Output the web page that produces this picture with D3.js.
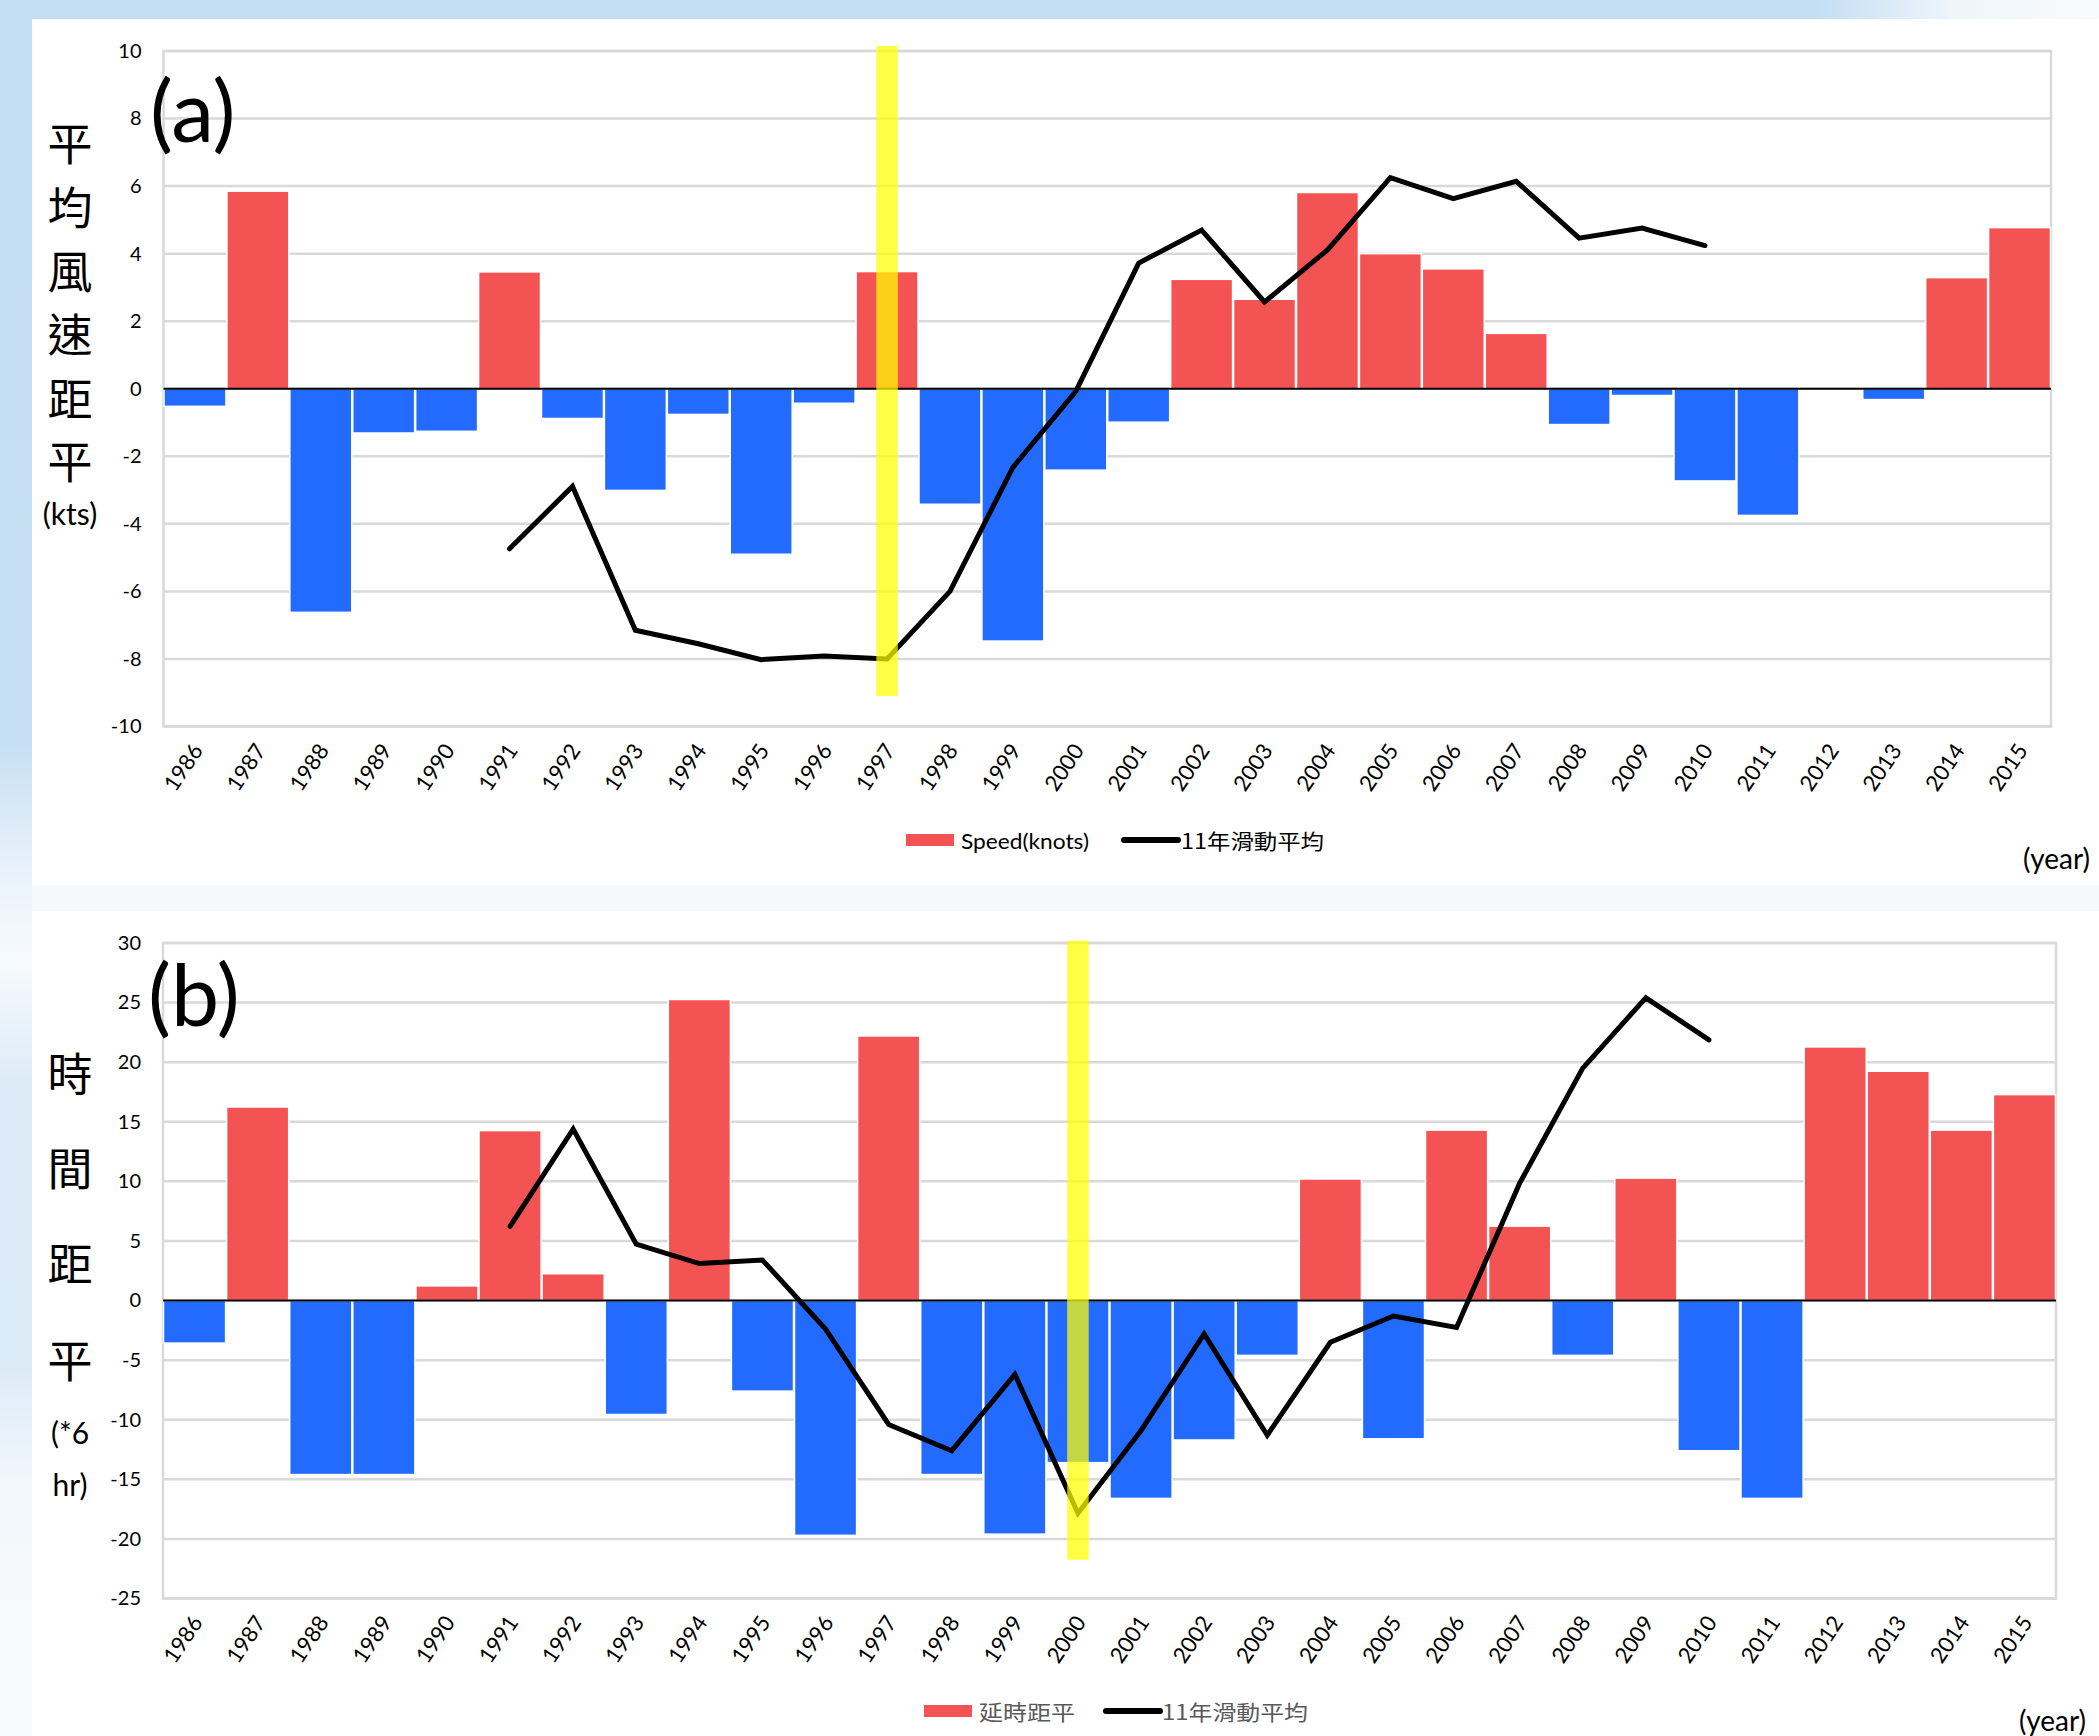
<!DOCTYPE html>
<html><head><meta charset="utf-8">
<script src="https://cdn.jsdelivr.net/npm/d3@7"></script>
<style>body{margin:0;background:#fff}svg{display:block}</style>
</head><body>
<script>
// ---------------- DATA ----------------
const years = ["1986","1987","1988","1989","1990","1991","1992","1993","1994","1995",
  "1996","1997","1998","1999","2000","2001","2002","2003","2004","2005",
  "2006","2007","2008","2009","2010","2011","2012","2013","2014","2015"];
const speedAnomaly = [-0.52, 5.85, -6.62, -1.31, -1.26, 3.46, -0.88, -3.01, -0.76, -4.9,
  -0.43, 3.47, -3.42, -7.47, -2.41, -0.99, 3.24, 2.65, 5.81, 4.0,
  3.55, 1.64, -1.06, -0.2, -2.73, -3.75, 0.05, -0.32, 3.29, 4.77];
const maYears = ["1991","1992","1993","1994","1995","1996","1997","1998","1999","2000",
  "2001","2002","2003","2004","2005","2006","2007","2008","2009","2010"];
const speedMovingAvg = [-4.74, -2.89, -7.15, -7.55, -8.02, -7.91, -8.0, -6.0, -2.33, -0.08,
  3.72, 4.70, 2.57, 4.11, 6.25, 5.63, 6.14, 4.46, 4.76, 4.24];
const durationAnomaly = [-3.57, 16.24, -14.6, -14.6, 1.23, 14.26, 2.25, -9.56, 25.26, -7.6,
  -19.7, 22.2, -14.6, -19.6, -13.6, -16.6, -11.7, -4.6, 10.2, -11.6,
  14.3, 6.24, -4.6, 10.27, -12.6, -16.6, 21.28, 19.24, 14.3, 17.28];
const durationMovingAvg = [6.23, 14.38, 4.73, 3.1, 3.4, -2.4, -10.4, -12.6, -6.19, -17.84,
  -10.9, -2.8, -11.3, -3.5, -1.3, -2.26, 9.85, 19.5, 25.4, 21.87];
const speedTicks = [-10, -8, -6, -4, -2, 0, 2, 4, 6, 8, 10];
const durationTicks = [-25, -20, -15, -10, -5, 0, 5, 10, 15, 20, 25, 30];
const speedHighlight = {year: "1997", lo: -9.1, hi: 10.15};
const durationHighlight = {year: "2000", lo: -21.75, hi: 30.2};
const speedTitle = ["平", "均", "風", "速", "距", "平"];
const durationTitle = ["時", "間", "距", "平"];
const legendA = ["Speed(knots)", "11年滑動平均"];
const legendB = ["延時距平", "11年滑動平均"];

// ---------------- STYLE ----------------
const RED = "#f45353", BLUE = "#236bff", GRID = "#d9d9d9";
const LATIN = "Lato, 'Open Sans', sans-serif";
const CJK = "'Noto Sans CJK TC', 'Noto Sans CJK SC', sans-serif";

const W = 2099, H = 1736;
const svg = d3.select("body").append("svg").attr("width", W).attr("height", H);
const defs = svg.append("defs");

// background
const gTop = defs.append("linearGradient").attr("id", "gTop").attr("x1", 0).attr("x2", 1).attr("y1", 0).attr("y2", 0);
[[0, "#c4def3"], [0.865, "#c4def3"], [0.93, "#eef5fb"], [1, "#f8fbfd"]].forEach(s => gTop.append("stop").attr("offset", s[0]).attr("stop-color", s[1]));
const gLeft = defs.append("linearGradient").attr("id", "gLeft").attr("x1", 0).attr("x2", 0).attr("y1", 0).attr("y2", 1);
[[0, "#c4def3"], [0.42, "#c6dff3"], [0.5, "#eaf3fb"], [0.55, "#f6fafd"], [0.62, "#dcebf7"], [0.78, "#dbeaf7"], [0.86, "#f3f8fc"], [1, "#f8fbfd"]].forEach(s => gLeft.append("stop").attr("offset", s[0]).attr("stop-color", s[1]));
svg.append("rect").attr("width", W).attr("height", H).attr("fill", "#f6f9fc");
svg.append("rect").attr("width", W).attr("height", 19).attr("fill", "url(#gTop)");
svg.append("rect").attr("y", 19).attr("width", 32).attr("height", H - 19).attr("fill", "url(#gLeft)");
svg.append("rect").attr("x", 32).attr("y", 19).attr("width", W - 32).attr("height", 866).attr("fill", "#ffffff");
svg.append("rect").attr("x", 32).attr("y", 911).attr("width", W - 32).attr("height", H - 911).attr("fill", "#ffffff");

function drawChart(cfg) {
  const g = svg.append("g");
  const x = d3.scaleBand().domain(years).range([cfg.x0, cfg.x1]).padding(0);
  const bw = x.bandwidth();
  const y = d3.scaleLinear().domain([cfg.ticks[0], cfg.ticks[cfg.ticks.length - 1]]).range([cfg.yb, cfg.yt]);

  // gridlines
  g.append("g").selectAll("line").data(cfg.ticks).join("line")
    .attr("x1", cfg.x0).attr("x2", cfg.x1)
    .attr("y1", d => y(d)).attr("y2", d => y(d))
    .attr("stroke", GRID).attr("stroke-width", 2.5);
  g.append("rect").attr("x", cfg.x0).attr("y", cfg.yt).attr("width", cfg.x1 - cfg.x0).attr("height", cfg.yb - cfg.yt)
    .attr("fill", "none").attr("stroke", GRID).attr("stroke-width", 2.5);

  // bars
  const data = years.map((yr, i) => ({yr, v: cfg.values[i]}));
  g.append("g").selectAll("rect").data(data).join("rect")
    .attr("x", d => x(d.yr) + 0.5)
    .attr("width", bw - 1)
    .attr("y", d => y(Math.max(0, d.v)))
    .attr("height", d => Math.abs(y(d.v) - y(0)))
    .attr("fill", d => d.v >= 0 ? RED : BLUE)
    .attr("stroke", "#ffffff").attr("stroke-width", 1.5);

  // zero line
  g.append("line").attr("x1", cfg.x0).attr("x2", cfg.x1).attr("y1", y(0)).attr("y2", y(0))
    .attr("stroke", "#000").attr("stroke-width", 2);

  // moving average
  const ma = maYears.map((yr, i) => ({yr, v: cfg.ma[i]}));
  g.append("path").datum(ma)
    .attr("d", d3.line().x(d => x(d.yr) + bw / 2).y(d => y(d.v)))
    .attr("fill", "none").attr("stroke", "#000").attr("stroke-width", 5)
    .attr("stroke-linejoin", "miter").attr("stroke-linecap", "round");

  // highlight
  const hw = 21.5;
  g.append("rect").attr("x", x(cfg.hl.year) + bw / 2 - hw / 2).attr("width", hw)
    .attr("y", y(cfg.hl.hi)).attr("height", y(cfg.hl.lo) - y(cfg.hl.hi))
    .attr("fill", "#ffff00").attr("fill-opacity", 0.73);

  // y axis
  const ya = g.append("g").attr("transform", `translate(${cfg.x0},0)`)
    .call(d3.axisLeft(y).tickValues(cfg.ticks).tickSize(0).tickPadding(22).tickFormat(d => String(d)));
  ya.select(".domain").remove();
  ya.selectAll("text").attr("font-family", LATIN).attr("font-size", 20).attr("fill", "#000");

  // x axis
  const xa = g.append("g").attr("transform", `translate(0,${cfg.yb})`)
    .call(d3.axisBottom(x).tickSize(0).tickPadding(0));
  xa.select(".domain").remove();
  xa.selectAll("text")
    .attr("font-family", LATIN).attr("font-size", 22).attr("fill", "#000")
    .attr("text-anchor", "end").attr("dy", null).attr("y", 0)
    .attr("transform", `translate(9,${cfg.xlabDy}) rotate(-56)`);

  // panel letter
  g.append("text").attr("x", cfg.letterX).attr("y", cfg.letterY).text(cfg.letter)
    .attr("font-family", LATIN).attr("font-size", 86).attr("fill", "#000");

  // vertical title
  g.append("g").selectAll("text").data(cfg.title).join("text")
    .attr("x", 70).attr("y", (d, i) => cfg.titleY[i]).text(d => d)
    .attr("text-anchor", "middle").attr("dominant-baseline", "central")
    .attr("font-family", CJK).attr("font-size", 45).attr("fill", "#000");
  g.append("g").selectAll("text").data(cfg.unit).join("text")
    .attr("x", 70).attr("y", (d, i) => cfg.unitY[i]).text(d => d)
    .attr("text-anchor", "middle").attr("dominant-baseline", "central")
    .attr("font-family", LATIN).attr("font-size", 30).attr("fill", "#000");

  // legend
  const L = cfg.legend;
  g.append("rect").attr("x", L.rx).attr("y", L.y - 6).attr("width", 48).attr("height", 12).attr("fill", RED);
  g.append("text").attr("x", L.t1x).attr("y", L.y).text(cfg.legendText[0])
    .attr("dominant-baseline", "central").attr("font-family", cfg.legendFont1).attr("font-size", 21)
    .attr("fill", L.color).attr("textLength", L.t1w).attr("lengthAdjust", "spacingAndGlyphs");
  g.append("line").attr("x1", L.lx).attr("x2", L.lx + 54).attr("y1", L.y).attr("y2", L.y)
    .attr("stroke", "#000").attr("stroke-width", 6).attr("stroke-linecap", "round");
  g.append("text").attr("x", L.t2x).attr("y", L.y).text(cfg.legendText[1])
    .attr("dominant-baseline", "central").attr("font-family", CJK).attr("font-size", 21)
    .attr("fill", L.color).attr("textLength", L.t2w).attr("lengthAdjust", "spacingAndGlyphs");

  g.append("text").attr("x", cfg.yearX).attr("y", cfg.yearY).text("(year)")
    .attr("text-anchor", "end").attr("dominant-baseline", "central")
    .attr("font-family", LATIN).attr("font-size", 28).attr("fill", "#000");
}

drawChart({
  x0: 163.5, x1: 2051, yt: 51, yb: 726.5, ticks: speedTicks,
  values: speedAnomaly, ma: speedMovingAvg, hl: speedHighlight, xlabDy: 24,
  letter: "(a)", letterX: 150, letterY: 142,
  title: speedTitle, titleY: [141, 205, 269, 332, 396, 459],
  unit: ["(kts)"], unitY: [513],
  legendText: legendA, legendFont1: LATIN,
  legend: {y: 840, rx: 906, t1x: 961, t1w: 128, lx: 1124, t2x: 1181, t2w: 143, color: "#000"},
  yearX: 2090, yearY: 858
});
drawChart({
  x0: 163, x1: 2056, yt: 943, yb: 1598.5, ticks: durationTicks,
  values: durationAnomaly, ma: durationMovingAvg, hl: durationHighlight, xlabDy: 24,
  letter: "(b)", letterX: 148, letterY: 1026,
  title: durationTitle, titleY: [1071, 1166, 1261, 1358],
  unit: ["(*6", "hr)"], unitY: [1432, 1484],
  legendText: legendB, legendFont1: CJK,
  legend: {y: 1711, rx: 924, t1x: 979, t1w: 96, lx: 1106, t2x: 1162, t2w: 146, color: "#595959"},
  yearX: 2086, yearY: 1720
});
</script>
</body></html>
